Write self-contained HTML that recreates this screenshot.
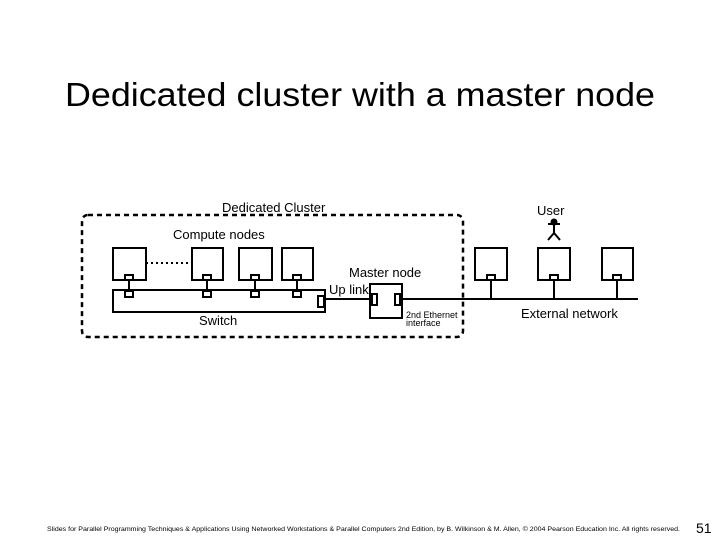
<!DOCTYPE html>
<html><head><meta charset="utf-8"><style>
body{margin:0;width:720px;height:540px;background:#fff;overflow:hidden}
</style></head><body>
<svg width="720" height="540" xmlns="http://www.w3.org/2000/svg" font-family="Liberation Sans, sans-serif">
<text x="65" y="106" font-size="33" textLength="590" lengthAdjust="spacingAndGlyphs">Dedicated cluster with a master node</text>
<rect x="82" y="215" width="381" height="122" rx="6" fill="none" stroke="#000" stroke-width="2.5" stroke-dasharray="5,4"/>
<text x="222" y="212" font-size="13">Dedicated Cluster</text>
<text x="537" y="215" font-size="13">User</text>
<text x="173" y="239" font-size="13">Compute nodes</text>
<text x="349" y="277" font-size="13">Master node</text>
<text x="329" y="294" font-size="13">Up link</text>
<text x="199" y="325" font-size="13">Switch</text>
<text x="406" y="318" font-size="9">2nd Ethernet</text>
<text x="406" y="326" font-size="9">interface</text>
<text x="521" y="318" font-size="13">External network</text>
<g fill="none" stroke="#000" stroke-width="2">
<rect x="113" y="290" width="212" height="22"/>
<rect x="318" y="296" width="6" height="11"/>
<rect x="113" y="248" width="33" height="32"/>
<rect x="192" y="248" width="31" height="32"/>
<rect x="239" y="248" width="33" height="32"/>
<rect x="282" y="248" width="31" height="32"/>
<line x1="146" y1="263" x2="192" y2="263" stroke-dasharray="2,3"/>
<rect x="370" y="284" width="32" height="34"/>
<rect x="372" y="294" width="5" height="11"/>
<rect x="395" y="294" width="5" height="11"/>
<line x1="325" y1="299" x2="370" y2="299"/>
<line x1="402" y1="299" x2="638" y2="299"/>
<rect x="475" y="248" width="32" height="32"/>
<rect x="538" y="248" width="32" height="32"/>
<rect x="602" y="248" width="31" height="32"/>
</g>
<g stroke="#000" stroke-width="2" fill="#fff">
<line x1="129" y1="280" x2="129" y2="291"/><line x1="207" y1="280" x2="207" y2="291"/>
<line x1="255" y1="280" x2="255" y2="291"/><line x1="297" y1="280" x2="297" y2="291"/>
<rect x="125" y="275" width="8" height="5"/><rect x="203" y="275" width="8" height="5"/>
<rect x="251" y="275" width="8" height="5"/><rect x="293" y="275" width="8" height="5"/>
<rect x="125" y="291" width="8" height="6"/><rect x="203" y="291" width="8" height="6"/>
<rect x="251" y="291" width="8" height="6"/><rect x="293" y="291" width="8" height="6"/>
<line x1="491" y1="280" x2="491" y2="299"/><line x1="554" y1="280" x2="554" y2="299"/><line x1="617" y1="280" x2="617" y2="299"/>
<rect x="487" y="275" width="8" height="5"/><rect x="550" y="275" width="8" height="5"/><rect x="613" y="275" width="8" height="5"/>
</g>
<g stroke="#000" stroke-width="2" fill="#000">
<circle cx="554" cy="222" r="2.5"/>
<line x1="554" y1="222" x2="554" y2="233"/>
<line x1="548" y1="224" x2="560" y2="224"/>
<line x1="554" y1="233" x2="548" y2="240"/><line x1="554" y1="233" x2="560" y2="240"/>
</g>
<text x="47" y="531" font-size="6" textLength="633" lengthAdjust="spacingAndGlyphs">Slides for Parallel Programming Techniques &amp; Applications Using Networked Workstations &amp; Parallel Computers 2nd Edition, by B. Wilkinson &amp; M. Allen, © 2004 Pearson Education Inc. All rights reserved.</text>
<text x="696" y="533" font-size="14">51</text>
</svg>
</body></html>
